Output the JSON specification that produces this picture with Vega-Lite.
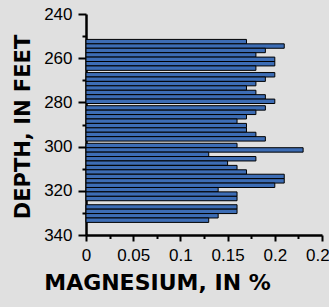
{
  "$schema": "https://vega.github.io/schema/vega-lite/v6.json",
  "width": 236,
  "height": 221,
  "autosize": {"type": "none"},
  "padding": {"left": 86, "top": 14, "right": 7, "bottom": 72},
  "background": "#e0e0e0",
  "config": {"view": {"stroke": null}},
  "data": {
    "values": [
      {"top": 251.5, "bottom": 253.5, "mg": 0.17},
      {"top": 253.5, "bottom": 255.5, "mg": 0.21},
      {"top": 255.5, "bottom": 257.5, "mg": 0.19},
      {"top": 257.5, "bottom": 259.5, "mg": 0.18},
      {"top": 259.5, "bottom": 261.5, "mg": 0.20},
      {"top": 261.5, "bottom": 263.5, "mg": 0.20},
      {"top": 263.5, "bottom": 265.5, "mg": 0.18},
      {"top": 266.5, "bottom": 268.5, "mg": 0.20},
      {"top": 268.5, "bottom": 270.5, "mg": 0.19},
      {"top": 270.5, "bottom": 272.5, "mg": 0.18},
      {"top": 272.5, "bottom": 274.5, "mg": 0.17},
      {"top": 274.5, "bottom": 276.5, "mg": 0.18},
      {"top": 276.5, "bottom": 278.5, "mg": 0.19},
      {"top": 278.5, "bottom": 280.5, "mg": 0.20},
      {"top": 281.5, "bottom": 283.5, "mg": 0.19},
      {"top": 283.5, "bottom": 285.5, "mg": 0.18},
      {"top": 285.5, "bottom": 287.5, "mg": 0.17},
      {"top": 287.5, "bottom": 289.5, "mg": 0.16},
      {"top": 289.5, "bottom": 291.5, "mg": 0.17},
      {"top": 291.5, "bottom": 293.5, "mg": 0.17},
      {"top": 293.5, "bottom": 295.5, "mg": 0.18},
      {"top": 295.5, "bottom": 297.5, "mg": 0.19},
      {"top": 298.5, "bottom": 300.5, "mg": 0.16},
      {"top": 300.5, "bottom": 302.5, "mg": 0.23},
      {"top": 302.5, "bottom": 304.5, "mg": 0.13},
      {"top": 304.5, "bottom": 306.5, "mg": 0.18},
      {"top": 306.5, "bottom": 308.5, "mg": 0.15},
      {"top": 308.5, "bottom": 310.5, "mg": 0.16},
      {"top": 310.5, "bottom": 312.5, "mg": 0.17},
      {"top": 312.5, "bottom": 314.5, "mg": 0.21},
      {"top": 314.5, "bottom": 316.5, "mg": 0.21},
      {"top": 316.5, "bottom": 318.5, "mg": 0.20},
      {"top": 318.5, "bottom": 320.5, "mg": 0.14},
      {"top": 320.5, "bottom": 322.5, "mg": 0.16},
      {"top": 322.5, "bottom": 324.5, "mg": 0.16},
      {"top": 326.3, "bottom": 328.3, "mg": 0.16},
      {"top": 328.3, "bottom": 330.3, "mg": 0.16},
      {"top": 330.3, "bottom": 332.3, "mg": 0.14},
      {"top": 332.3, "bottom": 334.3, "mg": 0.13}
    ]
  },
  "mark": {"type": "rect", "fill": "#3d6db5", "stroke": "#000000", "strokeWidth": 1},
  "encoding": {
    "y": {
      "field": "top",
      "type": "quantitative",
      "scale": {"domain": [240, 340], "reverse": true, "nice": false, "zero": false},
      "axis": {
        "values": [240, 250, 260, 270, 280, 290, 300, 310, 320, 330, 340],
        "labelExpr": "datum.value % 20 == 0 ? datum.label : ''",
        "grid": false,
        "domainColor": "#000000",
        "domainWidth": 2.5,
        "tickColor": "#000000",
        "tickWidth": 2,
        "tickSize": {"condition": {"test": "datum.value % 20 == 0", "value": 8}, "value": 4},
        "labelFont": "Liberation Sans",
        "labelFontSize": 17,
        "labelColor": "#000000",
        "labelPadding": 6,
        "title": "DEPTH, IN FEET",
        "titleFont": "DejaVu Sans",
        "titleFontSize": 21,
        "titleFontWeight": "bold",
        "titleColor": "#000000",
        "titleAngle": 270,
        "titleX": -57,
        "titleY": 112.5,
        "titleAlign": "center",
        "titleBaseline": "alphabetic"
      }
    },
    "y2": {"field": "bottom"},
    "x": {
      "field": "mg",
      "type": "quantitative",
      "scale": {"domain": [0, 0.25], "nice": false},
      "axis": {
        "values": [0, 0.025, 0.05, 0.075, 0.1, 0.125, 0.15, 0.175, 0.2, 0.225, 0.25],
        "labelExpr": "round(datum.value * 1000) % 50 == 0 ? format(datum.value, '.2~f') : ''",
        "grid": false,
        "domainColor": "#000000",
        "domainWidth": 2.5,
        "tickColor": "#000000",
        "tickWidth": 2,
        "tickSize": {"condition": {"test": "round(datum.value * 1000) % 50 == 0", "value": 6}, "value": 3.5},
        "labelFont": "Liberation Sans",
        "labelFontSize": 17,
        "labelColor": "#000000",
        "labelPadding": 6,
        "labelFlush": false,
        "labelOverlap": false,
        "title": "MAGNESIUM, IN %",
        "titleFont": "DejaVu Sans",
        "titleFontSize": 22,
        "titleFontWeight": "bold",
        "titleColor": "#000000",
        "titleX": 71,
        "titleY": 54,
        "titleAlign": "center",
        "titleBaseline": "alphabetic"
      }
    },
    "x2": {"datum": 0}
  }
}
